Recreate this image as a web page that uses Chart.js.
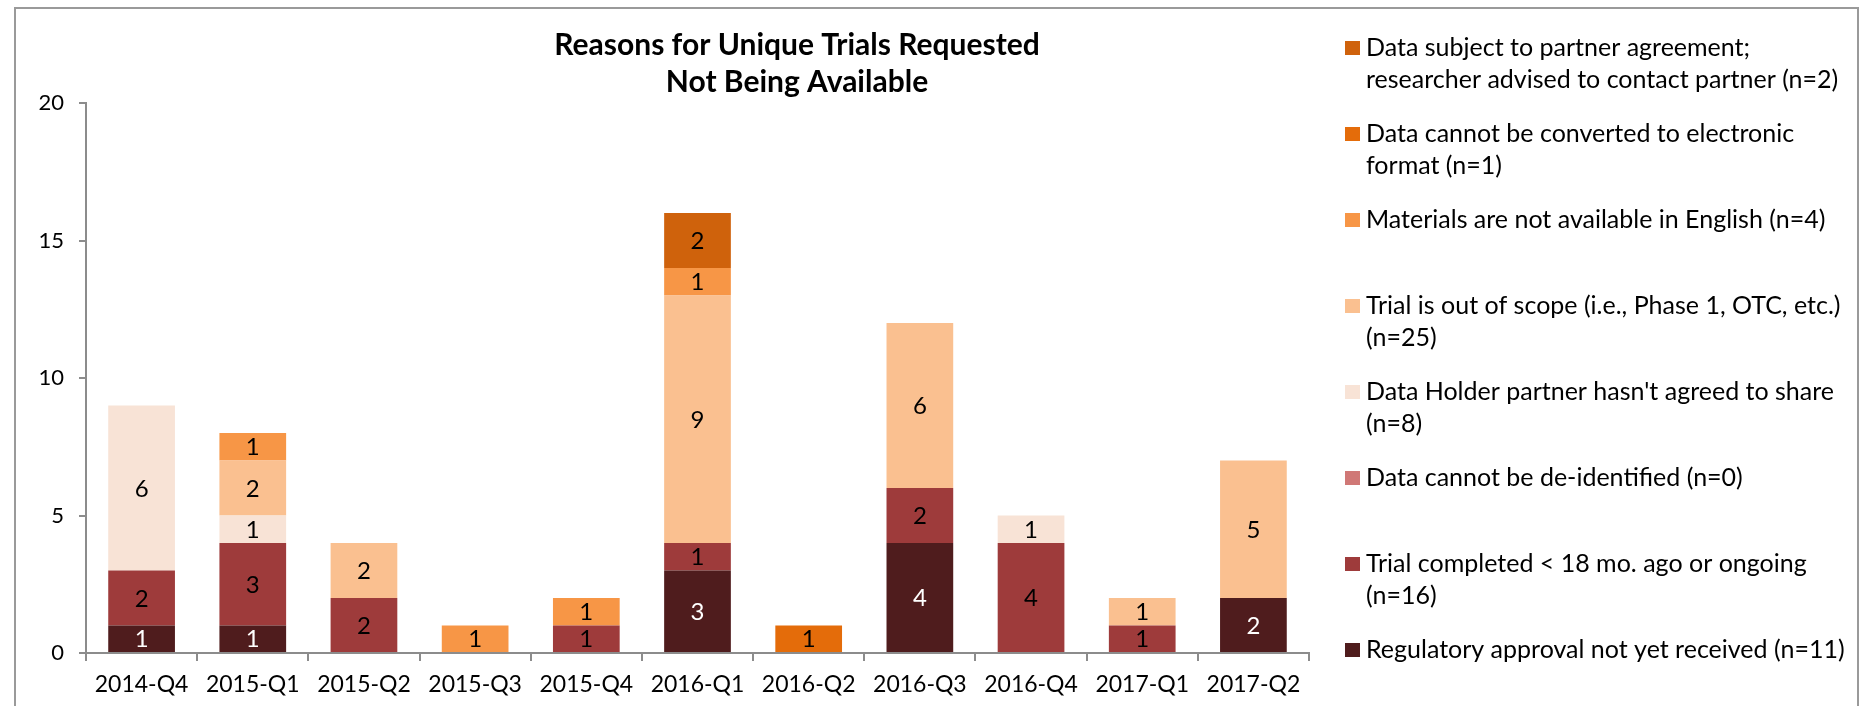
<!DOCTYPE html>
<html>
<head>
<meta charset="utf-8">
<script src="https://cdn.jsdelivr.net/npm/chart.js@4.4.0/dist/chart.umd.min.js"></script>
<style>
  body { margin: 0; background: #fff; }
  #frame { position: absolute; left: 14px; top: 7px; width: 1841px; height: 720px; border: 2px solid #9a9a9a; }
  #wrap { position: absolute; left: 0; top: 0; width: 1876px; height: 706px; }
</style>
</head>
<body>
<div id="frame"></div>
<div id="wrap"><canvas id="chart"></canvas></div>
<script>
var quarters = ["2014-Q4","2015-Q1","2015-Q2","2015-Q3","2015-Q4","2016-Q1","2016-Q2","2016-Q3","2016-Q4","2017-Q1","2017-Q2"];

// stacked bottom -> top
var regulatory   = [1,1,0,0,0,3,0,4,0,0,2];
var trialRecent  = [2,3,2,0,1,1,0,2,4,1,0];
var deIdentified = [0,0,0,0,0,0,0,0,0,0,0];
var holderNoShare= [6,1,0,0,0,0,0,0,1,0,0];
var outOfScope   = [0,2,2,0,0,9,0,6,0,1,5];
var notEnglish   = [0,1,0,1,1,1,0,0,0,0,0];
var notConverted = [0,0,0,0,0,0,1,0,0,0,0];
var partnerAgree = [0,0,0,0,0,2,0,0,0,0,0];

var seriesNames = [
    ["Regulatory approval not yet received (n=11)"],
    ["Trial completed < 18 mo. ago or ongoing", "(n=16)"],
    ["Data cannot be de-identified (n=0)"],
    ["Data Holder partner hasn't agreed to share", "(n=8)"],
    ["Trial is out of scope (i.e., Phase 1, OTC, etc.)", "(n=25)"],
    ["Materials are not available in English (n=4)"],
    ["Data cannot be converted to electronic", "format (n=1)"],
    ["Data subject to partner agreement;", "researcher advised to contact partner (n=2)"]
];
var seriesColors = ["#4f1c1d","#9e3b3b","#d07876","#f8e3d6","#fac090","#f79646","#e46c0a","#cf620c"];
var seriesValues = [regulatory, trialRecent, deIdentified, holderNoShare, outOfScope, notEnglish, notConverted, partnerAgree];

var FONT = "Lato, 'Liberation Sans', sans-serif";

var datasets = [];
for (var i = 0; i < seriesValues.length; i++) {
    datasets.push({
        label: seriesNames[i].join(" "),
        data: seriesValues[i],
        backgroundColor: seriesColors[i],
        borderWidth: 0,
        categoryPercentage: 1.0,
        barPercentage: 0.6
    });
}

// numbers inside the segments
var valueLabels = {
    id: "valueLabels",
    afterDatasetsDraw: function(chart) {
        var ctx = chart.ctx;
        ctx.save();
        ctx.font = "24px " + FONT;
        ctx.textAlign = "center";
        ctx.textBaseline = "middle";
        chart.data.datasets.forEach(function(ds, di) {
            var meta = chart.getDatasetMeta(di);
            meta.data.forEach(function(bar, j) {
                var v = ds.data[j];
                if (!v) return;
                ctx.fillStyle = di === 0 ? "#ffffff" : "#000000";
                ctx.fillText(String(v), bar.x, (bar.y + bar.base) / 2 + 1);
            });
        });
        ctx.restore();
    }
};

// title + legend on the right, drawn like the spreadsheet chart
var sideText = {
    id: "sideText",
    afterDraw: function(chart) {
        var ctx = chart.ctx;
        ctx.save();
        ctx.fillStyle = "#000";
        ctx.textAlign = "center";
        ctx.textBaseline = "middle";
        ctx.font = "bold 30px " + FONT;
        ctx.fillText("Reasons for Unique Trials Requested", 797, 45);
        ctx.fillText("Not Being Available", 797, 82);

        ctx.textAlign = "left";
        ctx.font = "25px " + FONT;
        var n = chart.data.datasets.length;
        for (var k = 0; k < n; k++) {
            var di = n - 1 - k;
            var y = 48 + k * 86;
            ctx.fillStyle = chart.data.datasets[di].backgroundColor;
            ctx.fillRect(1345, y - 7, 15, 14);
            ctx.fillStyle = "#000";
            var lines = seriesNames[di];
            for (var l = 0; l < lines.length; l++) {
                ctx.fillText(lines[l], 1366, y + l * 32);
            }
        }
        ctx.restore();
    }
};

new Chart(document.getElementById("chart").getContext("2d"), {
    type: "bar",
    data: { labels: quarters, datasets: datasets },
    plugins: [valueLabels, sideText],
    options: {
        responsive: true,
        maintainAspectRatio: false,
        animation: false,
        layout: { padding: { top: 103, right: 567, bottom: 0, left: 0 } },
        plugins: {
            legend: { display: false },
            title: { display: false },
            tooltip: { enabled: false }
        },
        scales: {
            x: {
                stacked: true,
                afterFit: function(s) { s.height = 53; },
                grid: { drawOnChartArea: false, drawTicks: true, tickLength: 8, tickColor: "#8c8c8c", lineWidth: 2 },
                border: { display: true, color: "#8c8c8c", width: 2 },
                ticks: { color: "#000", font: { family: FONT, size: 23 }, padding: 10, maxRotation: 0 }
            },
            y: {
                stacked: true,
                min: 0,
                max: 20,
                afterFit: function(s) { s.width = 86; },
                grid: { drawOnChartArea: false, drawTicks: true, tickLength: 7, tickColor: "#8c8c8c", lineWidth: 2 },
                border: { display: true, color: "#8c8c8c", width: 2 },
                ticks: { stepSize: 5, color: "#000", font: { family: FONT, size: 22 }, padding: 15 }
            }
        }
    }
});
</script>
</body>
</html>
